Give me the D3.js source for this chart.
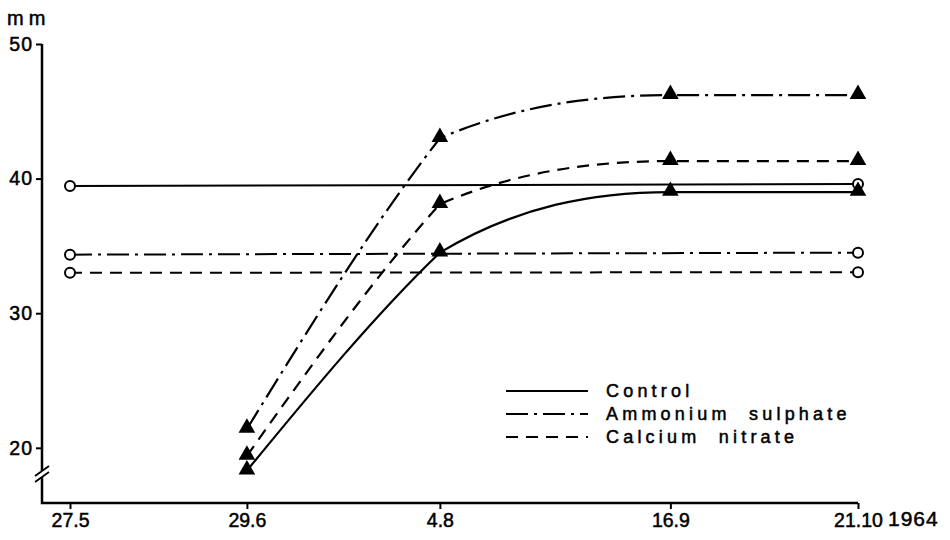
<!DOCTYPE html>
<html>
<head>
<meta charset="utf-8">
<script src="https://cdn.jsdelivr.net/npm/d3@7"></script>
<style>
  body { margin: 0; background: #fff; }
  text { font-family: "Liberation Sans", Arial, sans-serif; fill: #000; stroke: #000; stroke-width: 0.5px; }
</style>
</head>
<body>
<div id="chart"></div>
<script>
// sampling dates (1964) and their printed labels
var dates = ["1964-05-27", "1964-06-29", "1964-08-04", "1964-09-16", "1964-10-21"];
var dateLabels = ["27.5", "29.6", "4.8", "16.9", "21.10"];
var yTicks = [20, 30, 40, 50];

// first and last reading (open circles)
var controlBase = [39.45, 39.6];
var ammoniumBase = [34.35, 34.5];
var calciumBase = [33.0, 33.05];

// readings from 29.6 onwards (filled triangles)
var controlLate = [18.3, 34.5, 39.0, 39.0];
var ammoniumLate = [21.4, 43.0, 46.2, 46.2];
var calciumLate = [19.4, 38.1, 41.3, 41.3];

var legendNames = ["Control", "Ammonium  sulphate", "Calcium  nitrate"];

var W = 950, H = 540;
var parse = d3.timeParse("%Y-%m-%d");
var dt = dates.map(parse);

var x = d3.scaleTime().domain([dt[0], dt[4]]).range([70, 858]);
var y = d3.scaleLinear().domain([15.9, 50]).range([503, 44]);

var dashes = ["none", "22,6,3,6", "12,8"];

var svg = d3.select("#chart").append("svg")
  .attr("width", W).attr("height", H);

//axes
var axisX0 = 42, axisY0 = 503;

var xAxis = d3.axisBottom(x)
  .tickValues(dt)
  .tickSize(6)
  .tickSizeOuter(0)
  .tickFormat(function(d, i){ return dateLabels[i]; });

var gx = svg.append("g")
  .attr("transform", "translate(0," + axisY0 + ")")
  .call(xAxis);
gx.select(".domain").remove();
gx.selectAll(".tick line").attr("stroke", "#000").attr("stroke-width", 2);
gx.selectAll(".tick text")
  .attr("dy", null).attr("y", 24)
  .style("font-size", "19.5px");

var yAxis = d3.axisLeft(y)
  .tickValues(yTicks)
  .tickSize(6)
  .tickSizeOuter(0)
  .tickFormat(d3.format("d"));

var gy = svg.append("g")
  .attr("transform", "translate(" + axisX0 + ",0)")
  .call(yAxis);
gy.select(".domain").remove();
gy.selectAll(".tick line").attr("stroke", "#000").attr("stroke-width", 2);
gy.selectAll(".tick text")
  .attr("x", -9)
  .style("font-size", "19.5px")
  .style("letter-spacing", "1px");

svg.append("path")
  .attr("d", "M" + axisX0 + "," + y(50) + "V" + axisY0 + "H" + x(dt[4]))
  .attr("fill", "none")
  .attr("stroke", "#000")
  .attr("stroke-width", 2.5);

// axis break
var brk = svg.append("g").attr("transform", "translate(" + axisX0 + "," + 474 + ")");
brk.append("rect").attr("x", -3).attr("y", -3).attr("width", 6).attr("height", 6).attr("fill", "#fff");
[-3, 3].forEach(function(o){
  brk.append("line")
    .attr("x1", -7).attr("y1", o + 5)
    .attr("x2", 7).attr("y2", o - 5)
    .attr("stroke", "#000").attr("stroke-width", 1.8);
});

svg.append("text")
  .attr("x", 7).attr("y", 25)
  .style("font-size", "20px")
  .style("letter-spacing", "5px")
  .text("mm");

svg.append("text")
  .attr("x", 888).attr("y", 526)
  .style("font-size", "21px")
  .style("letter-spacing", "1px")
  .text("1964");

//series
var baseSeries = [controlBase, ammoniumBase, calciumBase];
var lateSeries = [controlLate, ammoniumLate, calciumLate];

var flat = d3.line()
  .x(function(d){ return x(d[0]); })
  .y(function(d){ return y(d[1]); });

baseSeries.forEach(function(s, i){
  var pts = [[dt[0], s[0]], [dt[4], s[1]]];
  svg.append("path")
    .attr("d", flat(pts))
    .attr("fill", "none")
    .attr("stroke", "#000")
    .attr("stroke-width", 2)
    .attr("stroke-dasharray", dashes[i]);
});

// hand-drawn look: a near-straight rise to 4.8, then a bend that flattens at 16.9
function riseCurve(pts){
  var p = pts.map(function(d){ return [x(d[0]), y(d[1])]; });
  var path = d3.path();
  var s01 = (p[1][1] - p[0][1]) / (p[1][0] - p[0][0]);
  var s12 = (p[2][1] - p[1][1]) / (p[2][0] - p[1][0]);
  var h0 = (p[1][0] - p[0][0]) / 3, h1 = (p[2][0] - p[1][0]) / 3;
  path.moveTo(p[0][0], p[0][1]);
  path.bezierCurveTo(p[0][0] + h0, p[0][1] + s01 * 1.08 * h0,
                     p[1][0] - h0, p[1][1] - s01 * 0.85 * h0,
                     p[1][0], p[1][1]);
  path.bezierCurveTo(p[1][0] + h1, p[1][1] + s12 * 2.3 * h1,
                     p[2][0] - h1, p[2][1],
                     p[2][0], p[2][1]);
  path.lineTo(p[3][0], p[3][1]);
  return path.toString();
}

lateSeries.forEach(function(s, i){
  var pts = s.map(function(v, j){ return [dt[j + 1], v]; });
  svg.append("path")
    .attr("d", riseCurve(pts))
    .attr("fill", "none")
    .attr("stroke", "#000")
    .attr("stroke-width", 2.2)
    .attr("stroke-dasharray", dashes[i]);
});

baseSeries.forEach(function(s){
  svg.selectAll(null)
    .data([[dt[0], s[0]], [dt[4], s[1]]])
    .enter().append("circle")
    .attr("cx", function(d){ return x(d[0]); })
    .attr("cy", function(d){ return y(d[1]); })
    .attr("r", 5)
    .attr("fill", "#fff")
    .attr("stroke", "#000")
    .attr("stroke-width", 2);
});

var tri = d3.symbol().type(d3.symbolTriangle).size(120);
lateSeries.forEach(function(s){
  svg.selectAll(null)
    .data(s.map(function(v, j){ return [dt[j + 1], v]; }))
    .enter().append("path")
    .attr("d", tri)
    .attr("transform", function(d){ return "translate(" + x(d[0]) + "," + (y(d[1]) - 1) + ")"; })
    .attr("fill", "#000");
});

//legend
var legend = svg.append("g").attr("transform", "translate(506,391)");
legendNames.forEach(function(name, i){
  var row = legend.append("g").attr("transform", "translate(0," + i * 23 + ")");
  row.append("line")
    .attr("x1", 0).attr("x2", 82)
    .attr("stroke", "#000")
    .attr("stroke-width", 2)
    .attr("stroke-dasharray", dashes[i]);
  row.append("text")
    .attr("x", 100).attr("y", 6)
    .style("font-size", "18px")
    .style("letter-spacing", "4.2px")
    .style("white-space", "pre")
    .text(name);
});
</script>
</body>
</html>
